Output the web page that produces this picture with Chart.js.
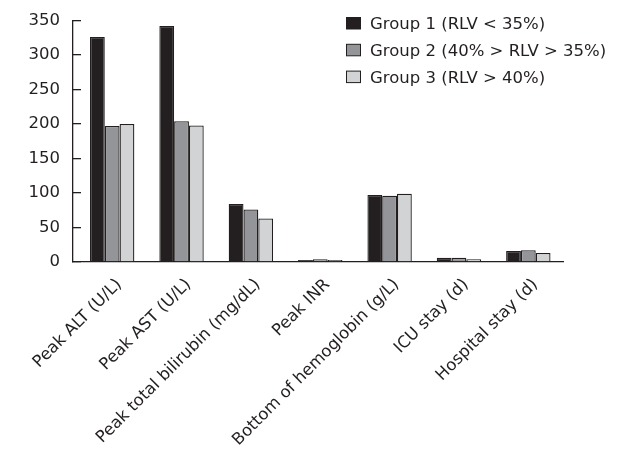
<!DOCTYPE html>
<html>
<head>
<meta charset="utf-8">
<script src="https://cdn.jsdelivr.net/npm/chart.js@4/dist/chart.umd.min.js"></script>
<style>
  html, body { margin: 0; padding: 0; background: #ffffff; }
  #wrap { width: 628px; height: 455px; }
</style>
</head>
<body>
<div id="wrap"><canvas id="c" width="628" height="455"></canvas></div>
<script>
const categories = ['Peak ALT (U/L)', 'Peak AST (U/L)', 'Peak total bilirubin (mg/dL)', 'Peak INR', 'Bottom of hemoglobin (g/L)', 'ICU stay (d)', 'Hospital stay (d)'];
const seriesNames = ['Group 1 (RLV < 35%)', 'Group 2 (40% > RLV > 35%)', 'Group 3 (RLV > 40%)'];
const group1 = [326, 342, 84, 3, 97, 6, 16];
const group2 = [197, 204, 76, 4, 96, 6, 17];
const group3 = [200, 198, 63, 3, 99, 4, 13];
const yTicks = [0, 50, 100, 150, 200, 250, 300, 350];

const INK = '#231f20';
const FONT = '"DejaVu Sans", Verdana, sans-serif';
const FONT_SIZE = 16.5;
const colors = ['#231f20', '#939598', '#d1d3d4'];

// Shift the category range start slightly right of the y axis line (as in the reference)
const shiftX = {
  id: 'shiftX',
  afterLayout(chart) {
    const s = chart.scales.x;
    s._startPixel = s.left + 4.5;
    s._length = s.right - s._startPixel;
  }
};

// Legend drawn inside the plot at top-right, one entry per row
const boxLegend = {
  id: 'boxLegend',
  afterDraw(chart) {
    const ctx = chart.ctx;
    ctx.save();
    ctx.font = FONT_SIZE + 'px ' + FONT;
    ctx.textBaseline = 'alphabetic';
    ctx.textAlign = 'left';
    chart.data.datasets.forEach((ds, i) => {
      const top = 17.5 + i * 26.8;
      ctx.fillStyle = ds.backgroundColor;
      ctx.fillRect(346.5, top, 14, 11.5);
      ctx.strokeStyle = INK;
      ctx.lineWidth = 1;
      ctx.strokeRect(346.5, top, 14, 11.5);
      ctx.fillStyle = INK;
      ctx.fillText(ds.label, 370, top + 11.8);
    });
    ctx.restore();
  }
};

const datasets = [group1, group2, group3].map((vals, i) => ({
  label: seriesNames[i],
  data: vals,
  backgroundColor: colors[i],
  borderColor: INK,
  borderWidth: 1.3,
  borderSkipped: 'bottom',
  categoryPercentage: 0.64,
  barPercentage: 1.0
}));

new Chart(document.getElementById('c'), {
  type: 'bar',
  data: { labels: categories, datasets },
  options: {
    responsive: false,
    animation: false,
    devicePixelRatio: 1,
    layout: { padding: { top: 20.5, right: 65, left: 0, bottom: 0 } },
    plugins: { legend: { display: false }, tooltip: { enabled: false }, title: { display: false } },
    scales: {
      x: {
        offset: true,
        grid: { display: false, drawTicks: false },
        border: { display: true, color: INK, width: 1.3 },
        ticks: {
          color: INK,
          font: { family: FONT, size: FONT_SIZE },
          minRotation: 45,
          maxRotation: 45,
          autoSkip: false,
          padding: 13,
          labelOffset: 7
        },
        afterFit(scale) {
          scale.height = 193;
          scale.paddingLeft = 0;
          scale.paddingRight = 0;
        }
      },
      y: {
        min: 0,
        max: 350,
        grid: { display: true, drawOnChartArea: false, drawTicks: true, tickLength: -8, color: INK, lineWidth: 1.3 },
        border: { display: true, color: INK, width: 1.3 },
        ticks: {
          color: INK,
          font: { family: FONT, size: FONT_SIZE },
          padding: 21
        },
        afterBuildTicks(scale) { scale.ticks = yTicks.map(v => ({ value: v })); },
        afterFit(scale) {
          scale.width = 73;
          scale.paddingTop = 0;
          scale.paddingBottom = 0;
        }
      }
    }
  },
  plugins: [shiftX, boxLegend]
});
</script>
</body>
</html>
